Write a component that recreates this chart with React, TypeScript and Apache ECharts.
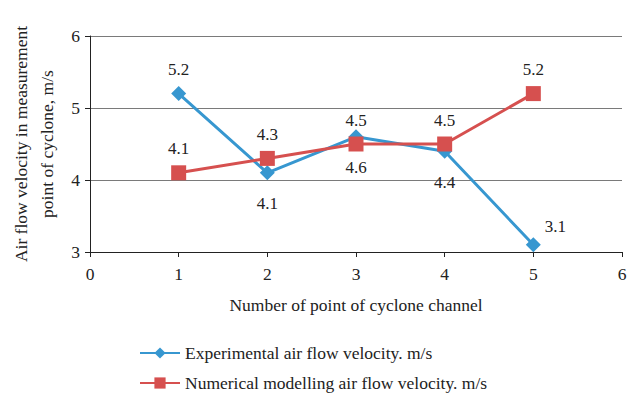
import React, { useEffect, useRef } from "react";
import * as echarts from "echarts";

const xValues = [1, 2, 3, 4, 5];
const experimental = [5.2, 4.1, 4.6, 4.4, 3.1];
const numerical = [4.1, 4.3, 4.5, 4.5, 5.2];
const expLabelPos = ["top", "bottom", "bottom", "bottom", "right"];
const numLabelPos = ["top", "top", "top", "top", "top"];
const seriesNames = [
  "Experimental air flow velocity. m/s",
  "Numerical modelling air flow velocity. m/s",
];

const FONT = "'Liberation Serif', serif";
const FS = 17.5;

export default function App() {
  const ref = useRef<HTMLDivElement>(null);
  useEffect(() => {
    if (!ref.current) return;
    const chart = echarts.init(ref.current, undefined, { renderer: "svg" });
    const label = (pos: string) => ({
      show: true,
      position: pos,
      distance: pos === "right" ? 4 : pos === "bottom" ? 15 : 8,
      offset: pos === "right" ? [0, -18] : [0, 0],
      fontFamily: FONT,
      fontSize: 17,
      color: "#222",
    });
    const legend = (name: string, top: number) => ({
      orient: "vertical",
      left: 134,
      top,
      itemWidth: 40,
      itemHeight: 14,
      textStyle: { fontFamily: FONT, fontSize: FS, color: "#222" },
      data: [name],
    });
    chart.setOption({
      animation: false,
      textStyle: { fontFamily: FONT },
      grid: { left: 90, right: 14, top: 36, bottom: 144, outerBoundsMode: "none", containLabel: false },
      xAxis: {
        type: "value",
        min: 0,
        max: 6,
        interval: 1,
        name: "Number of point of cyclone channel",
        nameLocation: "middle",
        nameGap: 44,
        nameTextStyle: { fontFamily: FONT, fontSize: FS, color: "#222" },
        axisLine: { lineStyle: { color: "#222", width: 1 } },
        axisTick: { show: true, length: 5, lineStyle: { color: "#222" } },
        axisLabel: { fontFamily: FONT, fontSize: FS, color: "#222", margin: 13 },
        splitLine: { show: false },
      },
      yAxis: {
        type: "value",
        min: 3,
        max: 6,
        interval: 1,
        name: "Air flow velocity in measurement\npoint of cyclone, m/s",
        nameLocation: "middle",
        nameGap: 29,
        nameTextStyle: { fontFamily: FONT, fontSize: FS, color: "#222", lineHeight: 26 },
        axisLine: { show: true, lineStyle: { color: "#222", width: 1 } },
        axisTick: { show: true, length: 5, lineStyle: { color: "#222" } },
        axisLabel: { fontFamily: FONT, fontSize: FS, color: "#222", margin: 10 },
        splitLine: { show: true, lineStyle: { color: "#7a7a7a", width: 1 } },
      },
      legend: [legend(seriesNames[0], 339), legend(seriesNames[1], 369)],
      series: [
        {
          name: seriesNames[0],
          type: "line",
          data: xValues.map((x, i) => ({
            value: [x, experimental[i]],
            label: label(expLabelPos[i]),
          })),
          symbol: "diamond",
          symbolSize: 15,
          lineStyle: { color: "#3797d0", width: 3 },
          itemStyle: { color: "#3797d0" },
          z: 3,
        },
        {
          name: seriesNames[1],
          type: "line",
          data: xValues.map((x, i) => ({
            value: [x, numerical[i]],
            label: label(numLabelPos[i]),
          })),
          symbol: "rect",
          symbolSize: 15,
          lineStyle: { color: "#d6504f", width: 3 },
          itemStyle: { color: "#d6504f" },
          z: 4,
        },
      ],
    });
    return () => chart.dispose();
  }, []);
  return <div ref={ref} style={{ width: 636, height: 396, position: "absolute", left: 0, top: 0, background: "#fff" }} />;
}
